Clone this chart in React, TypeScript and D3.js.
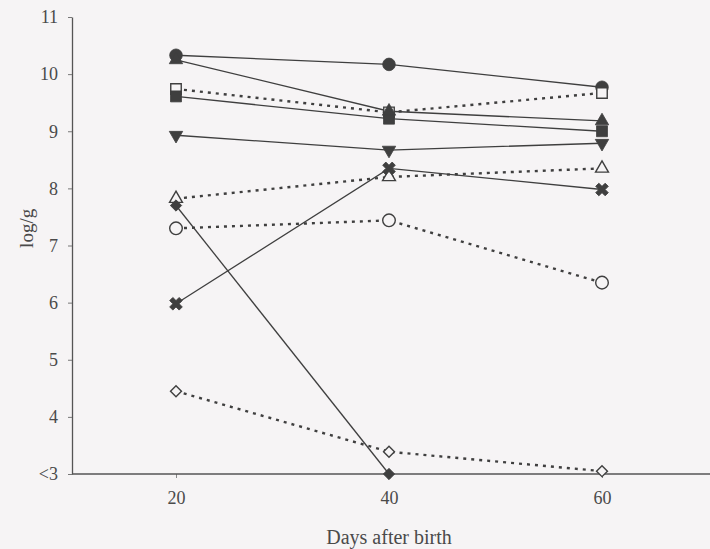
import React, { useEffect, useRef } from 'react';
import * as d3 from 'd3';

// days on the x axis
const days = [20, 40, 60];
// y tick values, 3 is shown as "<3"
const yTicks = [3, 4, 5, 6, 7, 8, 9, 10, 11];

// log/g values per series (null = no point)
const filledCircle = [10.33, 10.17, 9.77];
const openSquare = [9.74, 9.33, 9.67];
const filledSquare = [9.61, 9.22, 9.0];
const upTriangle = [10.25, 9.35, 9.18];
const downTriangle = [8.93, 8.67, 8.79];
const openTriangle = [7.82, 8.2, 8.35];
const crossMark = [5.98, 8.35, 7.98];
const openCircle = [7.3, 7.44, 6.35];
const filledDiamond = [7.7, 3.0, null];
const openDiamond = [4.45, 3.39, 3.05];

const ink = '#3f3f3f';
const paper = '#f6f4f5';

function App() {
    const ref = useRef<SVGSVGElement>(null);

    useEffect(() => {
        drawChart();
    }, []);

    function drawChart() {
        const svgWidth = 710, svgHeight = 549;
        const svg = d3.select(ref.current);
        svg.selectAll('*').remove();
        svg.attr('width', svgWidth).attr('height', svgHeight);

        svg.append('rect')
            .attr('width', svgWidth)
            .attr('height', svgHeight)
            .attr('fill', paper);

        const x = d3.scaleLinear().domain([20, 60]).range([176, 602]);
        const y = d3.scaleLinear().domain([3, 11]).range([474, 17]);
        const axisX = 72;

        // series list: values, marker, filled?, dotted line?
        const series = [
            { v: filledCircle, sym: d3.symbolCircle, size: 125, rot: 0, filled: true, dotted: false },
            { v: openSquare, sym: d3.symbolSquare, size: 110, rot: 0, filled: false, dotted: true },
            { v: filledSquare, sym: d3.symbolSquare, size: 120, rot: 0, filled: true, dotted: false },
            { v: upTriangle, sym: d3.symbolTriangle, size: 78, rot: 0, filled: true, dotted: false },
            { v: downTriangle, sym: d3.symbolTriangle, size: 78, rot: 180, filled: true, dotted: false },
            { v: openTriangle, sym: d3.symbolTriangle, size: 72, rot: 0, filled: false, dotted: true },
            { v: crossMark, sym: d3.symbolCross, size: 100, rot: 45, filled: true, dotted: false },
            { v: openCircle, sym: d3.symbolCircle, size: 125, rot: 0, filled: false, dotted: true },
            { v: filledDiamond, sym: d3.symbolSquare, size: 64, rot: 45, filled: true, dotted: false },
            { v: openDiamond, sym: d3.symbolSquare, size: 60, rot: 45, filled: false, dotted: true },
        ];

        // y axis
        const gy = svg.append('g')
            .attr('transform', 'translate(' + axisX + ',0)')
            .call(d3.axisLeft(y)
                .tickValues(yTicks)
                .tickFormat((d: any) => (d === 3 ? '<3' : String(d)))
                .tickSize(4)
                .tickSizeOuter(0)
                .tickPadding(10));
        gy.select('.domain').attr('stroke', '#555').attr('stroke-width', 1.3);
        gy.selectAll('.tick line').attr('stroke', '#777');
        gy.selectAll('text')
            .attr('font-family', 'Liberation Serif')
            .attr('font-size', 18)
            .attr('fill', '#4a4a4a');

        // x axis
        const gx = svg.append('g')
            .attr('transform', 'translate(0,' + y(3) + ')')
            .call(d3.axisBottom(x).tickValues(days).tickSize(4).tickPadding(13));
        gx.select('.domain').remove();
        gx.selectAll('.tick line').attr('stroke', '#888');
        gx.selectAll('text')
            .attr('font-family', 'Liberation Serif')
            .attr('font-size', 18)
            .attr('fill', '#4a4a4a');
        gx.append('line')
            .attr('x1', axisX)
            .attr('x2', svgWidth)
            .attr('stroke', '#555')
            .attr('stroke-width', 1.3);

        svg.append('text')
            .attr('x', x(40))
            .attr('y', 544)
            .attr('text-anchor', 'middle')
            .attr('font-family', 'Liberation Serif')
            .attr('font-size', 20)
            .attr('fill', '#4a4a4a')
            .text('Days after birth');

        svg.append('text')
            .attr('transform', 'translate(33,' + y(7.3) + ') rotate(-90)')
            .attr('text-anchor', 'middle')
            .attr('font-family', 'Liberation Serif')
            .attr('font-size', 19)
            .attr('fill', '#4a4a4a')
            .text('log/g');

        const line = d3.line<any>()
            .defined((d: any) => d.value !== null)
            .x((d: any) => x(d.day))
            .y((d: any) => y(d.value));

        series.forEach(s => {
            const pts = days.map((day, i) => ({ day: day, value: s.v[i] }));
            svg.append('path')
                .datum(pts)
                .attr('fill', 'none')
                .attr('stroke', ink)
                .attr('stroke-width', s.dotted ? 2.4 : 1.3)
                .attr('stroke-dasharray', s.dotted ? '3,5' : null)
                .attr('d', line);
        });

        series.forEach(s => {
            const pts = days.map((day, i) => ({ day: day, value: s.v[i] }))
                .filter(d => d.value !== null);
            svg.append('g')
                .selectAll('path')
                .data(pts)
                .enter()
                .append('path')
                .attr('transform', (d: any) => 'translate(' + x(d.day) + ',' + y(d.value) + ') rotate(' + s.rot + ')')
                .attr('d', d3.symbol().type(s.sym).size(s.size)())
                .attr('fill', s.filled ? ink : paper)
                .attr('stroke', ink)
                .attr('stroke-width', s.filled ? 0.8 : 1.4);
        });
    }

    return (
        <div style={{ position: 'absolute', left: 0, top: 0 }}>
            <svg ref={ref} style={{ display: 'block' }}></svg>
        </div>
    );
}

export default App;
